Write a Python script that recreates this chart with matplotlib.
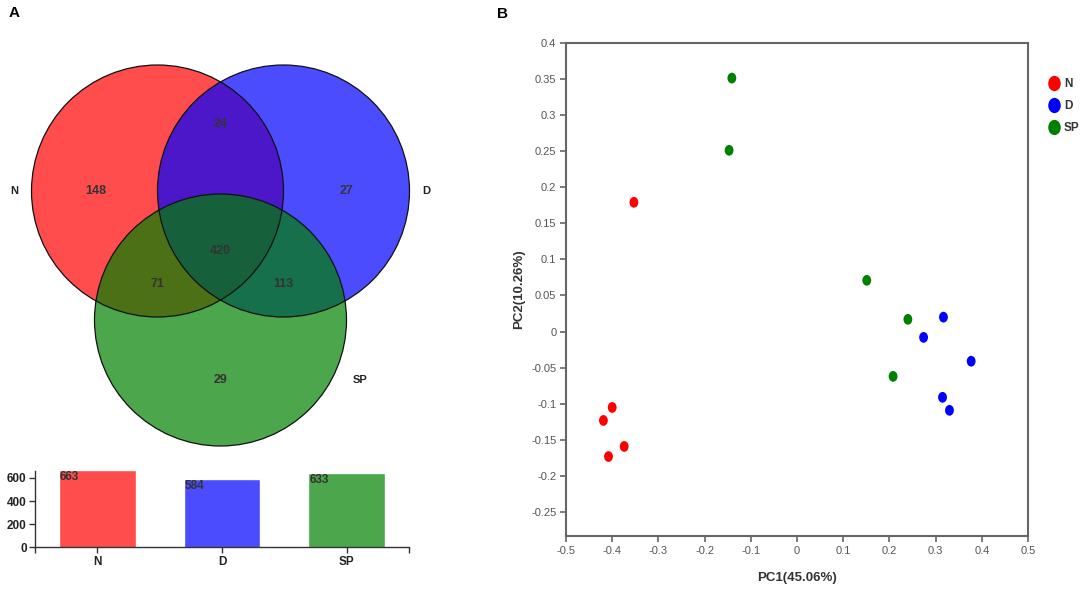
import numpy as np
import matplotlib.pyplot as plt
from matplotlib.patches import Circle
from matplotlib.path import Path
from matplotlib.transforms import Affine2D
from matplotlib.colors import to_rgba
from matplotlib.ticker import FuncFormatter
from matplotlib.lines import Line2D

plt.rcParams['font.family'] = ['Liberation Sans', 'DejaVu Sans']

# --------------------------------
# Data
# --------------------------------
groups = ["N", "D", "SP"]
group_colors = ["#ff0000", "#0000ff", "#008000"]

# Venn region counts
only_n, only_d, only_sp = 148, 27, 29
n_d, n_sp, d_sp = 24, 71, 113
n_d_sp = 420

# total per group
totals = [663, 584, 633]

# PCA scores
pc1_n = [-0.353, -0.400, -0.419, -0.374, -0.408]
pc2_n = [0.179, -0.105, -0.123, -0.159, -0.173]
pc1_d = [0.317, 0.274, 0.377, 0.315, 0.330]
pc2_d = [0.020, -0.008, -0.041, -0.091, -0.109]
pc1_sp = [-0.141, -0.147, 0.151, 0.240, 0.208]
pc2_sp = [0.351, 0.251, 0.071, 0.017, -0.062]

W, H = 1084, 594
fig = plt.figure(figsize=(W / 100, H / 100), dpi=100)

# --------------------------------
# Panel A: Venn (axes in pixel units)
# --------------------------------
axv = fig.add_axes([0, 134 / H, 440 / W, 460 / H])
axv.set_xlim(0, 440)
axv.set_ylim(460, 0)
axv.axis("off")

r = 126
cx, cy = 220.5, 191
centers = [(cx - r / 2, cy), (cx + r / 2, cy), (cx, cy + r + 3)]

for (x, y), c in zip(centers, group_colors):
    axv.add_patch(Circle((x, y), r, facecolor=to_rgba(c, 0.7), edgecolor="none"))
for (x, y) in centers:
    axv.add_patch(Circle((x, y), r, fill=False, edgecolor="#111111", lw=0.9))

nx_, dx_ = centers[0][0], centers[1][0]
num_kw = dict(ha="center", va="center", fontsize=9, fontweight="bold", color="#333333")
axv.text(nx_ - 0.49 * r, cy, str(only_n), **num_kw)
axv.text(dx_ + 0.5 * r, cy, str(only_d), **num_kw)
axv.text(cx, cy - 0.53 * r, str(n_d), **num_kw)
axv.text(cx, cy + 0.48 * r, str(n_d_sp), **num_kw)
axv.text(nx_, cy + 0.74 * r, str(n_sp), **num_kw)
axv.text(dx_, cy + 0.74 * r, str(d_sp), **num_kw)
axv.text(cx, cy + 1.5 * r, str(only_sp), **num_kw)

lab_kw = dict(va="center", fontsize=8, fontweight="bold", color="#222222")
axv.text(nx_ - 1.14 * r, cy, groups[0], ha="center", **lab_kw)
axv.text(dx_ + 1.13 * r, cy, groups[1], ha="center", **lab_kw)
axv.text(cx + 1.05 * r, cy + 1.5 * r, groups[2], ha="left", **lab_kw)

fig.text(9 / W, 1 - 13 / H, "A", fontsize=11, fontweight="bold", va="center", ha="left")
fig.text(497 / W, 1 - 14 / H, "B", fontsize=11, fontweight="bold", va="center", ha="left")

# --------------------------------
# Panel A: bar chart of totals
# --------------------------------
axb = fig.add_axes([35 / W, 1 - 547.3 / H, 374 / W, 76.6 / H])
xb = np.arange(len(groups))
axb.bar(xb, totals, width=0.6, color=[to_rgba(c, 0.7) for c in group_colors],
        edgecolor=[to_rgba(c, 0.4) for c in group_colors], lw=0.6)
for xi, v in zip(xb, totals):
    axb.text(xi - 0.3, v, str(v), ha="left", va="top", fontsize=8.5,
             fontweight="bold", color="#333333")
axb.set_xlim(-0.5, 2.5)
axb.set_ylim(0, max(totals))
axb.set_xticks(xb)
axb.set_xticklabels(groups, fontweight="bold")
axb.set_xticks([-0.5, 2.5], minor=True)
axb.set_yticks([0, 200, 400, 600])
for lbl in axb.get_yticklabels():
    lbl.set_fontweight("bold")
axb.tick_params(axis="both", which="both", labelsize=8.5, length=4, width=1,
                color="#333333", labelcolor="#222222", pad=2)
for s in ["top", "right"]:
    axb.spines[s].set_visible(False)
for s in ["left", "bottom"]:
    axb.spines[s].set_color("#333333")
    axb.spines[s].set_linewidth(1)

# --------------------------------
# Panel B: PCA scatter
# --------------------------------
axs = fig.add_axes([566 / W, 1 - 536 / H, 462 / W, 493.3 / H])

ell = Path.unit_circle().transformed(Affine2D().scale(0.82, 1.0))
series = [(pc1_n, pc2_n), (pc1_d, pc2_d), (pc1_sp, pc2_sp)]
for (xs, ys), c, g in zip(series, group_colors, groups):
    axs.scatter(xs, ys, s=60, marker=ell, color=c, edgecolors="none", label=g)

axs.set_xlim(-0.5, 0.5)
axs.set_ylim(-0.283, 0.4)
axs.set_xticks(np.round(np.arange(-0.5, 0.51, 0.1), 2))
axs.set_yticks(np.round(np.arange(-0.25, 0.401, 0.05), 2))
fmt = FuncFormatter(lambda v, p: "%g" % round(v, 2) if abs(v) > 1e-9 else "0")
axs.xaxis.set_major_formatter(fmt)
axs.yaxis.set_major_formatter(fmt)
axs.tick_params(axis="both", labelsize=8, length=4, width=1.2, color="#666666",
                labelcolor="#555555", pad=3)
for s in axs.spines.values():
    s.set_color("#666666")
    s.set_linewidth(1.5)

axs.set_xlabel("PC1(45.06%)", fontsize=9.5, fontweight="bold", color="#333333")
axs.set_ylabel("PC2(10.26%)", fontsize=9.5, fontweight="bold", color="#333333")
axs.xaxis.set_label_coords(0.5, -(572 - 536) / 493.3)
axs.yaxis.set_label_coords(-(566 - 525) / 462, 0.5)

handles = [Line2D([], [], ls="none", marker=ell, markersize=11, color=c,
                  markeredgecolor="none") for c in group_colors]
leg = fig.legend(handles, groups, loc="upper left",
                 bbox_to_anchor=(1049 / W, 1 - 78 / H), frameon=False,
                 handlelength=0.9, handletextpad=0.35, labelspacing=0.85,
                 borderaxespad=0, borderpad=0,
                 prop=dict(size=8.5, weight="bold"))
for t in leg.get_texts():
    t.set_color("#333333")

fig.savefig("out.png", dpi=100)
plt.close(fig)
